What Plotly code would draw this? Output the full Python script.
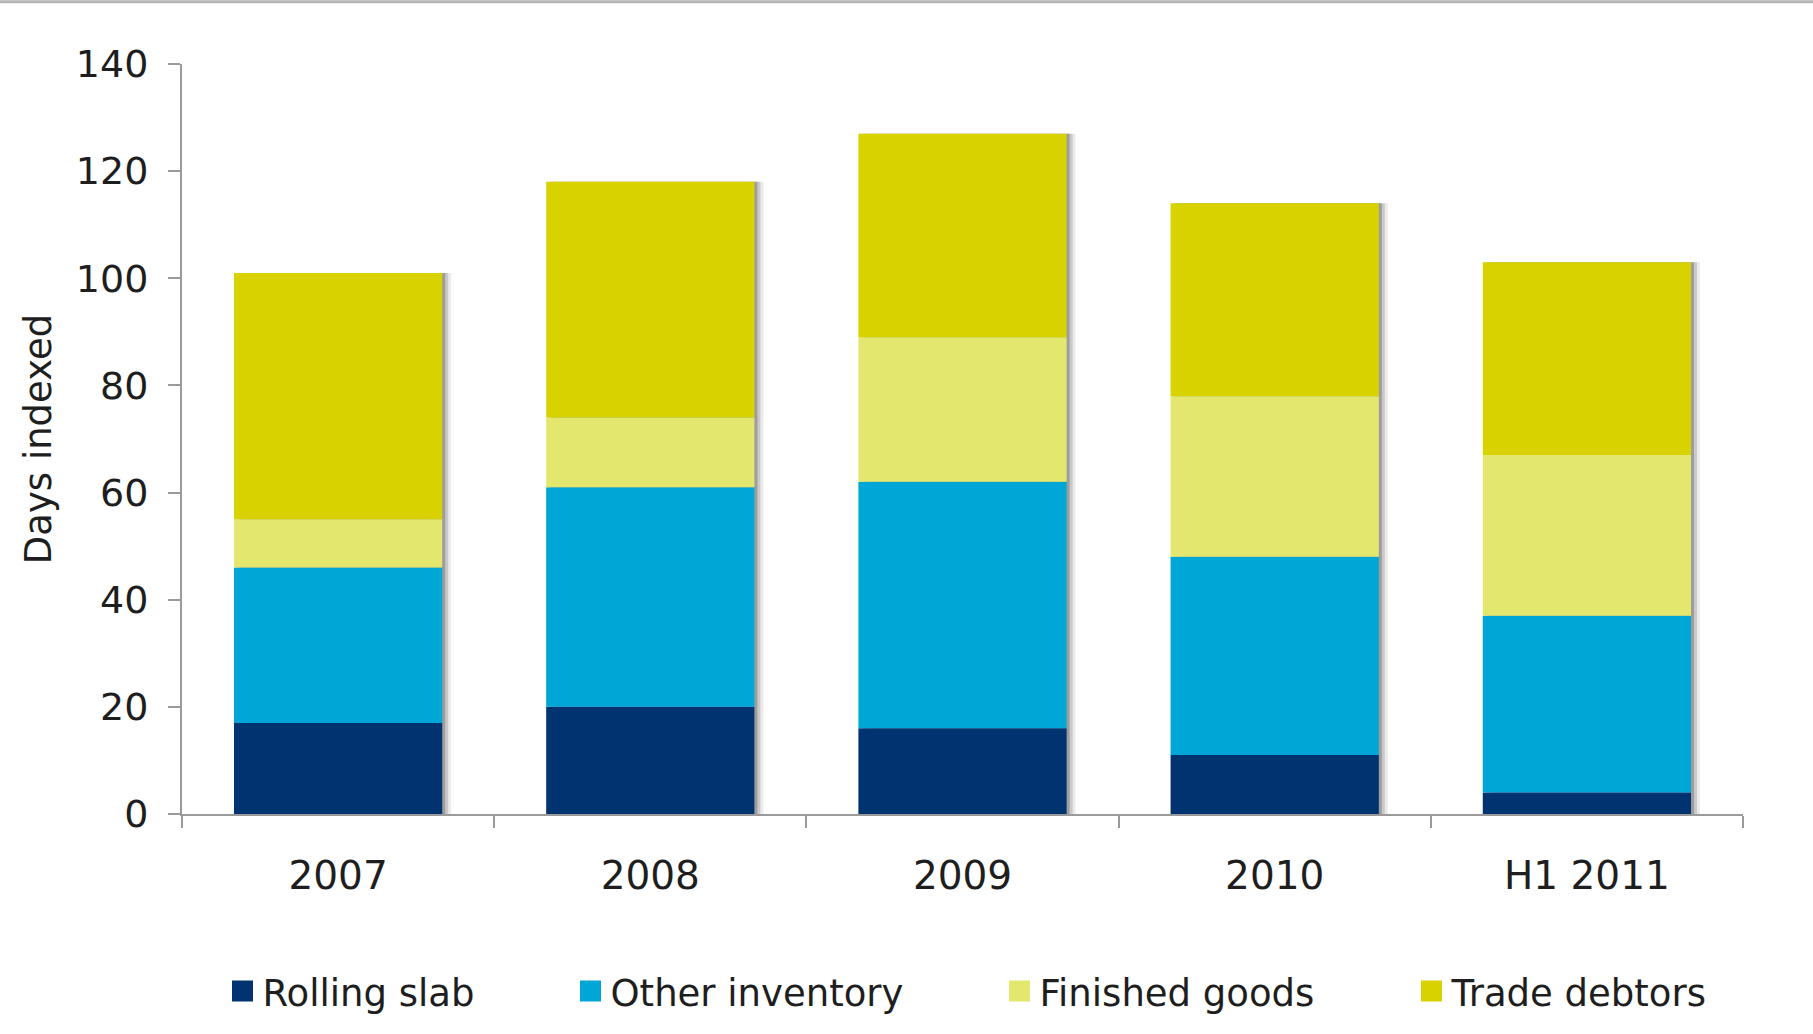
import numpy as np
import plotly.graph_objects as go

categories = ["2007", "2008", "2009", "2010", "H1 2011"]
rolling_slab = [17, 20, 16, 11, 4]
other_inventory = [29, 41, 46, 37, 33]
finished_goods = [9, 13, 27, 30, 30]
trade_debtors = [46, 44, 38, 36, 36]
series_names = ["Rolling slab", "Other inventory", "Finished goods", "Trade debtors"]
series_colors = ["#003370", "#00A6D6", "#E4E76E", "#D8D200"]
y_ticks = [0, 20, 40, 60, 80, 100, 120, 140]

series = [rolling_slab, other_inventory, finished_goods, trade_debtors]
stack = np.array(series, dtype=float)
bases = np.vstack([np.zeros(stack.shape[1]), np.cumsum(stack, axis=0)[:-1]])
totals = stack.sum(axis=0)

W, H = 1813, 1034
ML, MR, MT, MB = 182, 70, 64, 218
PW = W - ML - MR
PH = H - MT - MB
BAR_W = 0.667
FONT = "DejaVu Sans"
TXT = "#1e1e1e"
AX = "#9a9a9a"

fig = go.Figure()

# soft drop shadow behind each stacked column
for px_off, alpha in [(9, 0.08), (6, 0.14), (3, 0.22)]:
    fig.add_trace(go.Bar(
        x=categories, y=totals, base=[0] * len(totals),
        width=BAR_W, offset=-BAR_W / 2 + px_off / (PW / len(categories)),
        marker=dict(color=f"rgba(0,0,0,{alpha})", line=dict(width=0)),
        showlegend=False, hoverinfo="skip"))

for name, color, vals, base in zip(series_names, series_colors, series, bases):
    fig.add_trace(go.Bar(
        x=categories, y=vals, base=base, width=BAR_W, name=name,
        marker=dict(color=color, line=dict(width=0)),
        showlegend=False))

# legend entries (one legend per series, laid out in a row)
legend_ids = ["legend", "legend2", "legend3", "legend4"]
square_left_px = [232, 580, 1009, 1421]
for name, color, lid in zip(series_names, series_colors, legend_ids):
    fig.add_trace(go.Scatter(
        x=[None], y=[None], mode="markers", name=name, legend=lid,
        marker=dict(symbol="square", size=16, color=color,
                    line=dict(width=5, color=color)),
        showlegend=True, hoverinfo="skip"))

legend_layout = {}
for lid, sx in zip(legend_ids, square_left_px):
    legend_layout[lid] = dict(
        x=(sx - 9.5 - ML) / PW, xanchor="left",
        y=(MT + PH - 994) / PH, yanchor="middle",
        orientation="h", bgcolor="rgba(0,0,0,0)", borderwidth=0,
        font=dict(family=FONT, size=37, color=TXT))

fig.update_layout(
    width=W, height=H,
    margin=dict(l=ML, r=MR, t=MT, b=MB, pad=0),
    paper_bgcolor="white", plot_bgcolor="white",
    barmode="overlay",
    font=dict(family=FONT, color=TXT),
    **legend_layout,
    shapes=[dict(type="line", xref="paper", yref="paper",
                 x0=-0.2, x1=1.2,
                 y0=(MT + PH - 1.5) / PH, y1=(MT + PH - 1.5) / PH,
                 line=dict(color="#b4b4b4", width=3))],
)

fig.update_xaxes(
    type="category", categoryorder="array", categoryarray=categories,
    range=[-0.5, len(categories) - 0.5],
    showline=True, linecolor=AX, linewidth=2,
    ticks="outside", ticklen=12, tickwidth=2, tickcolor=AX,
    tickson="boundaries", showgrid=False, zeroline=False,
    tickfont=dict(family=FONT, size=39, color=TXT),
    ticklabelstandoff=26,
)
fig.update_yaxes(
    range=[0, 140], tickmode="array", tickvals=y_ticks,
    showline=True, linecolor=AX, linewidth=2,
    ticks="outside", ticklen=12, tickwidth=2, tickcolor=AX,
    showgrid=False, zeroline=False,
    tickfont=dict(family=FONT, size=38, color=TXT),
    ticklabelstandoff=12,
    title=dict(text="Days indexed", font=dict(family=FONT, size=37, color=TXT),
               standoff=13),
)

fig.write_html("out.html")
